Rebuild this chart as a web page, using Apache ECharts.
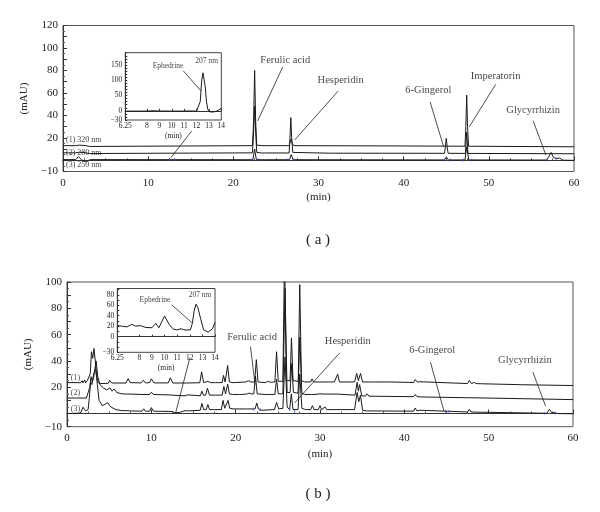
<!DOCTYPE html>
<html>
<head>
<meta charset="utf-8">
<script src="https://cdn.jsdelivr.net/npm/echarts@6/dist/echarts.min.js"></script>
<style>
  html, body { margin: 0; padding: 0; background: #fff; }
  #main { width: 600px; height: 512px; }
</style>
</head>
<body>
<div id="main"></div>
<script>
// ---- panel (a): three wavelengths, [min, mAU]
var traceA1 = [[0,13],[1.5,13],[1.7,11.5],[1.9,13.5],[2.7,13],[2.9,14.2],[3.1,12.3],[3.3,13],[22.25,13],[22.38,35],[22.5,80],[22.62,35],[22.75,13.5],[23.3,13],[23.5,14.6],[23.7,13],[26.55,13],[26.7,17],[26.8,19],[26.92,15],[27.1,13],[37.7,12.8],[37.9,13.8],[38.1,12.8],[47.2,12.5],[47.3,30],[47.4,58],[47.5,30],[47.62,12.5],[60,12]];
var traceA2 = [[0,6.6],[1.5,6.6],[1.7,5],[1.9,7.2],[2.7,6.6],[2.9,7.8],[3.1,6],[3.3,6.6],[22.25,6.6],[22.38,25],[22.5,48],[22.62,25],[22.75,7],[23.3,6.5],[23.5,8],[23.7,6.5],[26.55,6.5],[26.65,20],[26.75,38],[26.85,20],[26.98,7],[27.2,6.4],[31.4,6.3],[31.6,7.6],[31.8,6.3],[44.8,6.2],[44.9,12],[45.0,19.5],[45.1,12],[45.22,6.2],[47.25,6.1],[47.4,25],[47.55,6.1],[60,5.8]];
var traceA3 = [[0,0.6],[1.5,0.6],[1.8,3.2],[2.2,0.4],[2.7,-1.6],[3.0,0],[3.3,0.6],[22.3,0.5],[22.5,10],[22.7,0.6],[23.35,0.5],[23.5,2],[23.7,0.5],[26.6,0.5],[26.8,5],[27.0,0.5],[44.8,0.3],[45.0,3],[45.25,0.3],[47.2,0.3],[47.4,12],[47.65,0.3],[56.8,0.2],[57.1,4],[57.3,7],[57.6,2.5],[57.9,1.5],[58.3,2],[58.7,0.1],[60,-0.1]];
var insetA = [[6.25,-1],[7.5,-1],[8.2,-0.5],[8.5,0.5],[8.8,-0.5],[10,-1],[11,-0.8],[11.5,-0.5],[12,-1],[12.15,1],[12.3,30],[12.42,100],[12.52,124],[12.6,118],[12.7,80],[12.8,32],[12.9,6],[13.0,-2],[13.2,-4],[13.4,-3.5],[13.6,-1],[13.8,3],[14,8]];
var blueA = [[12.5,0.6],[13.1,0.6],[22.2,0.5],[22.9,0.5],[26.4,0.5],[27.1,0.5],[44.8,0.3],[45.5,0.3],[47.0,0.3],[48.0,0.3],[56.8,0.2],[57.9,1.3]];

// ---- panel (b)
var traceB1 = [[0,23.5],[1.3,23.5],[1.5,25],[1.6,23.3],[1.8,25],[1.9,23.3],[2.1,25.5],[2.2,23.3],[2.4,25],[2.6,23.5],[2.75,30],[2.9,47],[3.05,42],[3.2,49.5],[3.35,40],[3.5,29],[3.7,23.5],[4.0,22.8],[4.9,23],[5.05,25.3],[5.3,23.2],[7.0,23.2],[7.25,26.5],[7.5,23.5],[8.8,23.3],[9.05,25.3],[9.3,23.3],[9.8,23.5],[10.0,26.4],[10.3,23.3],[12.0,23.3],[12.25,27.2],[12.55,23.2],[14.3,23.2],[14.5,24.5],[14.7,23.3],[15.75,23.4],[15.96,31.7],[16.2,23.5],[16.7,24.5],[17,23.5],[17.6,23.5],[17.8,25],[18,23.5],[18.4,23.5],[18.55,29],[18.75,24],[18.9,24],[19.05,36.5],[19.25,24],[19.7,23.5],[21.2,24],[21.5,25],[21.8,24],[22.25,24],[22.45,41],[22.65,24],[23.5,23.5],[23.8,24.5],[24.1,23.8],[24.65,24],[24.85,47],[25.05,24.5],[25.6,24.5],[25.8,125],[26.0,25],[26.45,25],[26.62,57.5],[26.8,25],[27.42,24.5],[27.6,98],[27.8,25],[28.2,24],[28.9,24],[29.05,26.3],[29.25,24],[29.8,24],[30.0,25.3],[30.2,24],[30.7,24],[30.85,25],[31,24],[31.3,24],[31.5,25],[31.7,24],[31.9,24],[32.1,30],[32.3,24],[34.1,24],[34.35,30.5],[34.55,25],[34.8,30.5],[35.05,24],[36.2,24],[36.4,24.8],[36.6,24],[37.9,24],[38.1,25],[38.3,24],[41.1,23.6],[41.3,25.8],[41.55,23.8],[41.8,24.2],[42,23.5],[47.5,22.8],[47.7,25.2],[47.95,22.8],[48.3,23.6],[48.6,22.7],[49.0,22.7],[49.2,24.2],[49.4,22.6],[53.5,22],[53.7,23],[53.9,21.9],[60,21.3]];
var traceB2 = [[0,11.8],[2.3,11.8],[2.5,13],[2.7,20],[2.85,28],[3.0,24],[3.15,27],[3.45,40],[3.65,28],[3.9,22],[4.3,19.5],[4.7,18],[5.1,19.5],[5.35,17],[5.6,18.7],[5.9,16],[6.5,15],[7.1,14.8],[7.3,16],[7.5,14.8],[8.9,14.5],[9.05,15.3],[9.25,14.5],[9.8,14.5],[10.0,16.2],[10.25,14.5],[12.0,14.2],[12.2,15.5],[12.45,14],[14,13.5],[14.3,14.2],[14.5,13.5],[15.8,13.5],[16.0,17],[16.2,13.8],[16.45,14],[16.65,19.3],[16.9,14],[17.6,14],[17.8,15],[18,14],[18.4,14],[18.6,20.6],[18.8,15],[18.9,15],[19.05,22.4],[19.25,15],[19.6,14.5],[20.3,14.5],[20.5,15.2],[20.7,14.5],[21.3,14.8],[21.6,15.5],[21.9,14.8],[22.15,15],[22.35,28.5],[22.55,15],[23.5,14.5],[23.7,15.5],[24,14.5],[24.65,14.5],[24.85,26],[25.05,15],[25.6,15],[25.85,95],[26.1,16],[26.45,16],[26.65,38],[26.85,16],[27.4,15.5],[27.6,58],[27.85,15.5],[28.2,14.5],[29,14.5],[29.2,15.5],[29.4,14.5],[30,15],[30.2,14.2],[30.5,14.8],[30.7,14.2],[31.2,14.8],[31.4,14.2],[32,14.8],[32.2,14.2],[34.15,14],[34.4,23.8],[34.55,17],[34.7,22],[34.95,13.5],[35.4,13.3],[35.6,15],[35.8,13.2],[41.1,12.8],[41.3,14.5],[41.5,12.8],[42.7,12.5],[42.9,13.8],[43.1,12.5],[47.5,12],[47.7,13.3],[47.9,12],[60,10.6]];
var traceB3 = [[0,0],[1.6,0.3],[1.9,4.8],[2.2,2],[2.5,3],[2.65,12],[2.8,24],[2.95,22],[3.15,30],[3.4,34],[3.6,22],[3.8,10],[4.2,6],[4.5,7],[4.8,8.3],[5.2,5],[5.8,3],[6.5,2.2],[7.1,2.2],[7.3,3.2],[7.5,2],[8.9,1.8],[9.1,3.6],[9.3,1.8],[9.8,1.8],[10.0,4.5],[10.25,1.8],[12.1,1.6],[12.3,3],[12.5,1.5],[12.8,0.6],[13.3,0.8],[14,2.2],[14.3,2],[15.8,2.5],[16.0,7.7],[16.2,3],[16.5,3],[16.7,6.8],[16.9,3],[17.5,3],[17.7,4.5],[17.9,3],[18.3,3],[18.5,10],[18.7,4],[18.9,4],[19.1,10],[19.3,4],[19.5,5],[19.7,3.5],[21,3.5],[21.2,4.5],[21.4,3.5],[22.3,3.5],[22.5,8],[22.7,3.5],[23,2.5],[24.6,3],[24.85,8.5],[25.1,3.5],[25.6,4],[25.85,43],[26.1,5],[26.4,3],[26.6,15],[26.8,3],[27.0,1.5],[27.4,3],[27.6,30],[27.85,4],[28.3,3],[28.9,3],[29.1,6],[29.3,3],[29.8,3],[30,6],[30.2,3],[30.4,3],[30.6,5],[30.8,3],[31.3,3],[31.5,4.5],[31.7,3],[32,3],[32.2,4.5],[32.4,3],[34.1,3],[34.4,16],[34.6,9],[34.8,14],[35.05,2.5],[35.5,2],[41.1,1.8],[41.3,4.2],[41.5,2],[41.8,2.5],[42,1.8],[47.5,1.2],[47.7,3.2],[47.9,1.2],[49,1],[49.2,2.5],[49.4,1],[56.9,0.2],[57.2,3.3],[57.5,0.5],[57.8,0.8],[58.1,0],[60,-0.2]];
var insetB = [[6.25,21],[6.6,20],[7.0,18.5],[7.4,23.5],[7.7,20],[8.1,21],[8.5,17.5],[9.0,17],[9.3,25.5],[9.55,17],[10.0,39.5],[10.35,24],[10.7,14],[11.0,13],[11.3,15],[11.5,13.5],[11.7,12.5],[12.05,13],[12.2,25],[12.35,50],[12.5,62],[12.65,55],[12.85,35],[13.1,13],[13.45,8.5],[13.8,15],[14,27]];
var blueB = [[22.1,3.5],[22.9,3],[26.4,3],[27.0,1.5],[44.9,1.8],[45.3,1.8],[56.6,0.2],[57.9,0.5]];

// ---- annotations (label text, label centre, leader line ends) in data units
var peakNamesA = ['Ferulic acid', 'Hesperidin', '6-Gingerol', 'Imperatorin', 'Glycyrrhizin'];
var peakLabelPosA = [[26.1,89],[32.6,71],[42.9,62],[50.8,74.4],[55.2,44.7]];
var leadersA = [[[25.8,83],[22.85,35]], [[32.3,61.6],[27.2,18]], [[43.1,52],[44.7,12]], [[50.8,67.6],[47.7,29.8]], [[55.2,35.2],[56.7,4.6]], [[15.1,26],[12.7,2.6]]];
var traceNamesA = ['(1) 320 nm', '(2) 280 nm', '(3) 250 nm'];
var traceNamePosA = [[0.35,18],[0.35,7],[0.35,-4]];

var peakNamesB = ['Ferulic acid', 'Hesperidin', '6-Gingerol', 'Glycyrrhizin'];
var peakLabelPosB = [[21.95,58.3],[33.3,55],[43.3,47.9],[54.3,40.3]];
var leadersB = [[[21.76,50.7],[22.3,22]], [[32.35,46.2],[27.0,8.1]], [[43.1,39],[44.7,1.8]], [[55.25,31.4],[56.75,5.6]], [[14.57,42.4],[12.9,1]]];
var traceNamesB = ['(1)', '(2)', '(3)'];
var traceNamePosB = [[0.45,27.1],[0.45,15.7],[0.45,3.6]];

var insetNames = ['Ephedrine', '207 nm'];
var insetLabelPosA = [[9.7,148],[12.82,164]];
var insetLeaderA = [[10.93,130.7],[12.34,65.9]];
var insetLabelPosB = [[9.24,69],[12.81,80]];
var insetLeaderB = [[10.57,60.8],[12.15,27]];

var insetTicksX = [6.25, 8, 9, 10, 11, 12, 13, 14];
var insetLabelsYA = [-30, 0, 50, 100, 150];
var insetLabelsYB = [-30, 0, 20, 40, 60, 80];

var SERIF = "'Liberation Serif', 'DejaVu Serif', serif";
var INK = '#1a1a1a';

function minus(v) { return String(v).replace('-', '\u2212'); }

function mainX(grid, gap) {
  return {
    type: 'value', gridIndex: grid, min: 0, max: 60, interval: 10,
    name: '(min)', nameLocation: 'middle', nameGap: gap,
    nameTextStyle: { fontFamily: SERIF, fontSize: 11, color: '#222' },
    axisLine: { lineStyle: { color: '#333' } },
    axisTick: { inside: true, length: 4, lineStyle: { color: '#333' } },
    minorTick: { show: true, splitNumber: 4, length: 2, lineStyle: { color: '#555' } },
    axisLabel: { fontFamily: SERIF, fontSize: 11, color: '#222', margin: 6 },
    splitLine: { show: false }
  };
}
function mainY(grid, max) {
  return {
    type: 'value', gridIndex: grid, min: -10, max: max, interval: 10,
    name: '(mAU)', nameLocation: 'middle', nameGap: 32,
    nameTextStyle: { fontFamily: SERIF, fontSize: 11, color: '#222' },
    axisLine: { lineStyle: { color: '#333' } },
    axisTick: { inside: true, length: 4, lineStyle: { color: '#333' } },
    minorTick: { show: true, splitNumber: 2, length: 2, lineStyle: { color: '#555' } },
    axisLabel: {
      fontFamily: SERIF, fontSize: 11, color: '#222', margin: 5,
      formatter: function (v) { return (v === -10 || (v > 0 && v % 20 === 0)) ? minus(v) : ''; }
    },
    splitLine: { show: false }
  };
}
function insetX(grid) {
  return {
    type: 'value', gridIndex: grid, min: 6.25, max: 14,
    name: '(min)', nameLocation: 'middle', nameGap: 12,
    nameTextStyle: { fontFamily: SERIF, fontSize: 7.5, color: '#222' },
    axisLine: { lineStyle: { color: '#333' } },
    axisTick: { inside: true, length: 2, customValues: insetTicksX, lineStyle: { color: '#333' } },
    axisLabel: { fontFamily: SERIF, fontSize: 7.5, color: '#222', margin: 2, customValues: insetTicksX },
    splitLine: { show: false }
  };
}
function insetY(grid, max, labels) {
  return {
    type: 'value', gridIndex: grid, min: -30, max: max, interval: 10,
    axisLine: { lineStyle: { color: '#333' } },
    axisTick: { inside: true, length: 2, lineStyle: { color: '#333' } },
    axisLabel: {
      fontFamily: SERIF, fontSize: 7.5, color: '#222', margin: 3,
      formatter: function (v) { return labels.indexOf(v) >= 0 ? minus(v) : ''; }
    },
    splitLine: { show: false }
  };
}

var series = [];
function trace(data, ax) {
  series.push({ type: 'line', data: data, xAxisIndex: ax, yAxisIndex: ax, showSymbol: false,
    symbol: 'none', lineStyle: { color: INK, width: 1 }, silent: true, z: 3 });
}
function leader(pts, ax) {
  series.push({ type: 'line', data: pts, xAxisIndex: ax, yAxisIndex: ax, symbol: 'none',
    lineStyle: { color: '#222', width: 0.8 }, silent: true, z: 4 });
}
function texts(names, pos, ax, size, where) {
  series.push({
    type: 'scatter', xAxisIndex: ax, yAxisIndex: ax, symbolSize: 0, silent: true, z: 5,
    data: names.map(function (n, i) { return { value: pos[i], name: n }; }),
    label: { show: true, position: where, distance: 0, formatter: '{b}',
      fontFamily: SERIF, fontSize: size, color: '#111' }
  });
}
function marks(data, ax) {
  series.push({ type: 'scatter', xAxisIndex: ax, yAxisIndex: ax, data: data, symbol: 'rect',
    symbolSize: [1, 3], itemStyle: { color: '#4a55cc' }, silent: true, z: 4 });
}

trace(traceA1, 0); trace(traceA2, 0); trace(traceA3, 0);
marks(blueA, 0);
leadersA.forEach(function (l) { leader(l, 0); });
texts(peakNamesA, peakLabelPosA, 0, 10.5, 'inside');
texts(traceNamesA, traceNamePosA, 0, 8, 'right');

trace(insetA, 1);
leader(insetLeaderA, 1);
texts(insetNames, insetLabelPosA, 1, 7.5, 'inside');

trace(traceB1, 2); trace(traceB2, 2); trace(traceB3, 2);
marks(blueB, 2);
leadersB.forEach(function (l) { leader(l, 2); });
texts(peakNamesB, peakLabelPosB, 2, 10.5, 'inside');
texts(traceNamesB, traceNamePosB, 2, 8, 'right');

trace(insetB, 3);
leader(insetLeaderB, 3);
texts(insetNames, insetLabelPosB, 3, 7.5, 'inside');

var chart = echarts.init(document.getElementById('main'), null, { renderer: 'canvas' });
chart.setOption({
  animation: false,
  backgroundColor: '#fff',
  grid: [
    { left: 63, top: 25.5, width: 511, height: 146, show: true, borderColor: '#555', borderWidth: 1 },
    { left: 125.3, top: 52.7, width: 96, height: 67.3, show: true, borderColor: '#444', borderWidth: 1, backgroundColor: '#fff' },
    { left: 67, top: 282, width: 506, height: 144.7, show: true, borderColor: '#555', borderWidth: 1 },
    { left: 117.3, top: 288.5, width: 97.7, height: 63.8, show: true, borderColor: '#444', borderWidth: 1, backgroundColor: '#fff' }
  ],
  xAxis: [mainX(0, 20), insetX(1), mainX(2, 22), insetX(3)],
  yAxis: [mainY(0, 120), insetY(1, 190, insetLabelsYA), mainY(2, 100), insetY(3, 92, insetLabelsYB)],
  graphic: [
    { type: 'text', x: 318, y: 240, style: { text: '( a )', font: '15px ' + SERIF, fill: '#222', align: 'center', verticalAlign: 'middle' } },
    { type: 'text', x: 318, y: 494, style: { text: '( b )', font: '15px ' + SERIF, fill: '#222', align: 'center', verticalAlign: 'middle' } }
  ],
  series: series
});
</script>
</body>
</html>
